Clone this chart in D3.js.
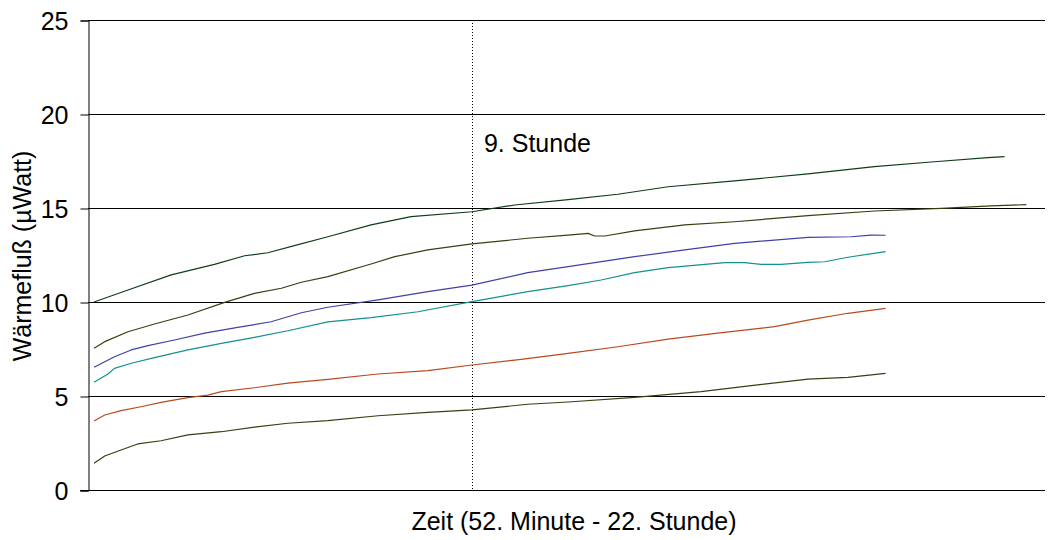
<!DOCTYPE html>
<html>
<head>
<meta charset="utf-8">
<script src="https://cdn.jsdelivr.net/npm/d3@7"></script>
<style>
  html, body { margin: 0; padding: 0; background: #fff; }
  svg { display: block; font-family: Arial, "Liberation Sans", sans-serif; }
</style>
</head>
<body>
<svg id="chart" width="1055" height="540"></svg>
<script>
// Heat flow measurements: [time in hours, heat flow in µWatt]
const probe1 = [[0.87,10.0],[1.60,10.64],[2.53,11.44],[3.46,12.0],[4.11,12.46],[4.61,12.62],[5.18,13.0],[5.90,13.47],
  [6.83,14.1],[7.69,14.54],[9.00,14.8],[9.92,15.16],[11.07,15.45],[12.14,15.73],[13.22,16.13],[14.65,16.44],[16.23,16.82],
  [17.66,17.2],[18.95,17.46],[20.10,17.68],[20.46,17.73]];
const probe2 = [[0.87,7.54],[1.10,7.89],[1.60,8.42],[2.17,8.83],[2.89,9.31],[3.68,9.98],[4.32,10.46],[4.90,10.73],[5.33,11.05],
  [5.90,11.35],[6.83,12.02],[7.34,12.41],[8.05,12.77],[9.00,13.09],[10.20,13.39],[11.07,13.56],[11.50,13.65],[11.64,13.51],
  [11.86,13.51],[12.50,13.78],[13.58,14.1],[14.65,14.27],[16.23,14.59],[17.66,14.84],[19.10,14.98],[20.17,15.11],[20.93,15.18]];
const probe3 = [[0.87,6.53],[1.31,7.09],[1.67,7.45],[2.03,7.68],[2.60,7.98],[3.25,8.34],[3.96,8.65],[4.68,8.95],[5.33,9.43],
  [5.90,9.72],[6.98,10.11],[8.05,10.55],[9.00,10.9],[10.20,11.56],[11.07,11.88],[12.50,12.41],[13.58,12.77],[14.65,13.12],
  [16.23,13.44],[17.16,13.47],[17.59,13.56],[17.90,13.55]];
const probe4 = [[0.87,5.73],[1.17,6.17],[1.31,6.47],[1.67,6.74],[2.17,7.04],[2.89,7.45],[3.61,7.8],[4.32,8.12],[5.04,8.47],
  [5.90,8.94],[6.83,9.17],[7.84,9.48],[9.00,10.02],[10.20,10.55],[11.07,10.87],[11.78,11.17],[12.50,11.56],[13.22,11.83],
  [14.44,12.09],[14.87,12.09],[15.22,12.0],[15.65,12.0],[16.23,12.11],[16.59,12.14],[17.09,12.38],[17.90,12.68]];
const probe5 = [[0.87,3.67],[1.10,3.99],[1.45,4.22],[1.88,4.43],[2.31,4.66],[2.89,4.91],[3.32,5.05],[3.61,5.23],[4.32,5.44],
  [5.04,5.68],[5.90,5.88],[6.98,6.17],[8.05,6.35],[9.00,6.65],[10.06,6.95],[11.07,7.27],[12.14,7.62],[13.22,8.03],
  [14.29,8.34],[15.51,8.69],[16.23,9.04],[17.09,9.4],[17.90,9.66]];
const probe6 = [[0.87,1.42],[1.10,1.81],[1.45,2.13],[1.81,2.45],[2.31,2.62],[2.89,2.93],[3.61,3.1],[4.32,3.34],[5.04,3.55],
  [5.90,3.69],[6.98,3.95],[8.05,4.13],[9.00,4.26],[10.20,4.56],[11.07,4.68],[12.50,4.93],[13.93,5.23],[15.01,5.55],
  [16.23,5.9],[17.09,5.99],[17.90,6.2]];

const seriesList = [probe1, probe2, probe3, probe4, probe5, probe6];
const seriesColors = ["#0f3d1a", "#3d3d12", "#4040a8", "#139090", "#b84a1e", "#3d3d14"];

const yTicks = [0, 5, 10, 15, 20, 25];
const markerHour = 9;
const markerLabel = "9. Stunde";
const xTitle = "Zeit (52. Minute - 22. Stunde)";
const yTitle = "Wärmefluß (µWatt)";

const plotLeft = 88, plotRight = 1045, plotTop = 20, plotBottom = 490;
const fontSize = 25;

const svg = d3.select("#chart");

const x = d3.scaleLinear().domain([0.74, 21.33]).range([plotLeft, plotRight]);
const y = d3.scaleLinear().domain([0, 25]).range([plotBottom, plotTop]);

// Horizontal gridlines
svg.append("g")
  .selectAll("line")
  .data(yTicks.filter(d => d > 0))
  .join("line")
  .attr("x1", plotLeft).attr("x2", plotRight)
  .attr("y1", d => Math.round(y(d)) + 0.5)
  .attr("y2", d => Math.round(y(d)) + 0.5)
  .attr("stroke", "#000")
  .attr("stroke-width", 1);

// Y axis with outward ticks
const yAxis = d3.axisLeft(y).tickValues(yTicks).tickSize(8).tickPadding(12);
const yg = svg.append("g")
  .attr("transform", `translate(${plotLeft + 0.5},0.5)`)
  .call(yAxis);
yg.select(".domain").attr("stroke", "#000");
yg.selectAll(".tick line").attr("stroke", "#000");
yg.selectAll(".tick text")
  .attr("font-size", fontSize)
  .attr("font-family", "Arial, 'Liberation Sans', sans-serif")
  .attr("fill", "#000")
  .attr("dy", "0.36em");

// X axis line
svg.append("line")
  .attr("x1", plotLeft - 8).attr("x2", plotRight)
  .attr("y1", plotBottom + 0.5).attr("y2", plotBottom + 0.5)
  .attr("stroke", "#000");

// Dotted marker at the 9th hour
svg.append("line")
  .attr("x1", Math.round(x(markerHour)) + 0.5).attr("x2", Math.round(x(markerHour)) + 0.5)
  .attr("y1", plotTop).attr("y2", plotBottom)
  .attr("stroke", "#000")
  .attr("stroke-width", 1)
  .attr("stroke-dasharray", "1,2");

svg.append("text")
  .attr("x", x(markerHour) + 12)
  .attr("y", 152)
  .attr("font-size", fontSize)
  .attr("fill", "#000")
  .text(markerLabel);

// Measurement curves
const line = d3.line().x(d => x(d[0])).y(d => y(d[1]));
svg.append("g")
  .selectAll("path")
  .data(seriesList)
  .join("path")
  .attr("d", line)
  .attr("fill", "none")
  .attr("stroke", (d, i) => seriesColors[i])
  .attr("stroke-width", 1.2)
  .attr("stroke-linejoin", "round");

// Axis titles
svg.append("text")
  .attr("x", 574)
  .attr("y", 530)
  .attr("text-anchor", "middle")
  .attr("font-size", fontSize)
  .attr("fill", "#000")
  .text(xTitle);

svg.append("text")
  .attr("transform", "translate(31,256) rotate(-90)")
  .attr("text-anchor", "middle")
  .attr("font-size", fontSize)
  .attr("fill", "#000")
  .text(yTitle);
</script>
</body>
</html>
